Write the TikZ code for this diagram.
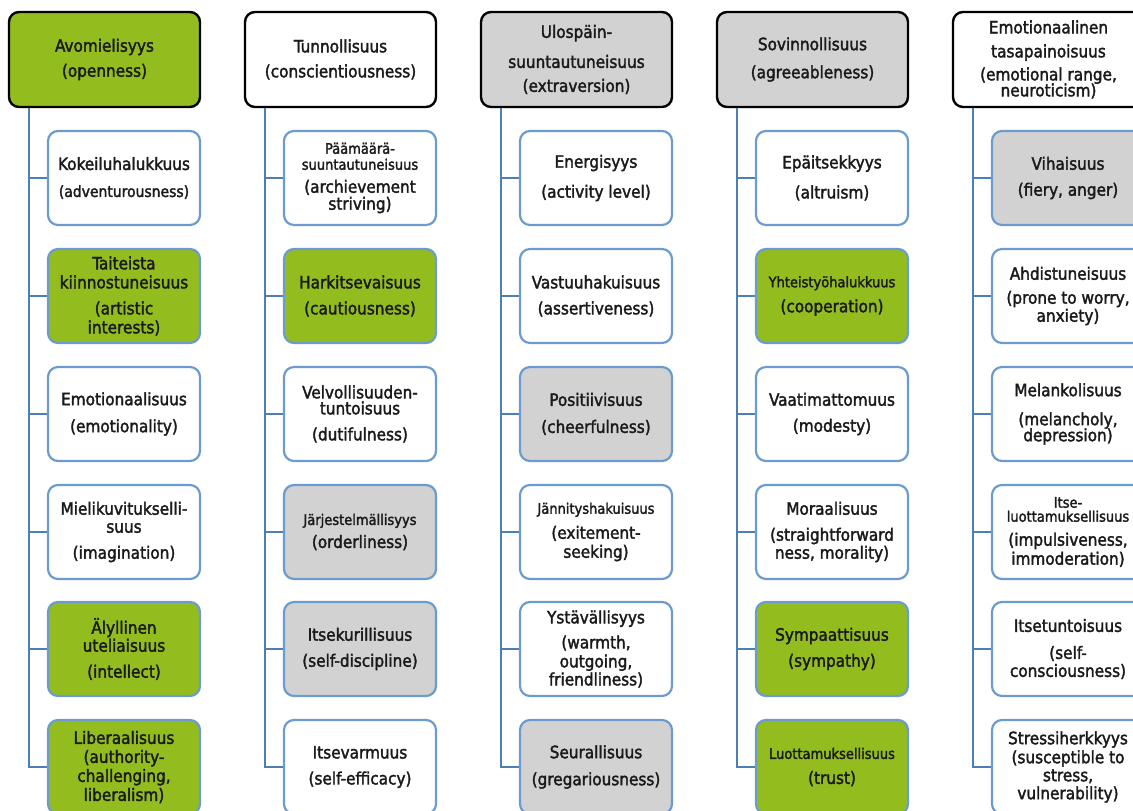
\documentclass[tikz,border=0pt]{standalone}
\usepackage{fontspec}
\setmainfont{DejaVu Sans Condensed}[FakeBold=2]
\definecolor{grn}{HTML}{93BD1F}
\definecolor{gry}{HTML}{D3D2D3}
\definecolor{cbord}{HTML}{6C9BCF}
\definecolor{connc}{HTML}{4D7FB4}
\definecolor{txt}{HTML}{1A1A1A}
\newcommand\sm{\fontsize{14.5}{15}\selectfont}
\newcommand\smb{\fontsize{15.5}{16}\selectfont}
\begin{document}
\begin{tikzpicture}[x=1pt,y=-1pt,
  topbox/.style={draw=black, line width=2.4pt, rounded corners=10pt,
    minimum width=191pt, minimum height=95pt, align=center, inner sep=0pt,
    text=txt, font=\fontsize{17}{19}\selectfont},
  subbox/.style={draw=cbord, line width=2.2pt, rounded corners=10pt,
    minimum width=152pt, minimum height=94pt, align=center, inner sep=0pt,
    text=txt, font=\fontsize{17}{19}\selectfont},
  gbox/.style={fill=grn},
  hbox/.style={fill=gry},
  wbox/.style={fill=white},
  link/.style={draw=connc, line width=2.6pt}]
\useasboundingbox (0,0) rectangle (1133,811);
\fill[white] (0,0) rectangle (1133,811);

% ---------- column 1 ----------
\node[topbox,gbox] (A0) at (104.5,59.5) {Avomielisyys\\[6pt](openness)};
\node[subbox,wbox] (A1) at (124,178) {Kokeiluhalukkuus\\[8pt]{\smb(adventurousness)}};
\node[subbox,gbox] (A2) at (124,296) {Taiteista\\kiinnostuneisuus\\[7pt](artistic\\interests)};
\node[subbox,wbox] (A3) at (124,414) {Emotionaalisuus\\[8pt](emotionality)};
\node[subbox,wbox] (A4) at (124,532) {Mielikuvitukselli-\\[-1pt]suus\\[7pt](imagination)};
\node[subbox,gbox] (A5) at (124,649) {Älyllinen\\[-1pt]uteliaisuus\\[7pt](intellect)};
\node[subbox,gbox] (A6) at (124,767) {Liberaalisuus\\(authority-\\challenging,\\liberalism)};

% ---------- column 2 ----------
\node[topbox,wbox] (B0) at (340.5,59.5) {Tunnollisuus\\[6pt](conscientiousness)};
\node[subbox,wbox] (B1) at (360,178) {{\sm Päämäärä-}\\[-3pt]{\sm suuntautuneisuus}\\[4pt](archievement\\[-2pt]striving)};
\node[subbox,gbox] (B2) at (360,296) {Harkitsevaisuus\\[7pt](cautiousness)};
\node[subbox,wbox] (B3) at (360,414) {Velvollisuuden-\\[-3pt]tuntoisuus\\[7pt](dutifulness)};
\node[subbox,hbox] (B4) at (360,532) {{\sm Järjestelmällisyys}\\[4pt](orderliness)};
\node[subbox,hbox] (B5) at (360,649) {Itsekurillisuus\\[7pt](self-discipline)};
\node[subbox,wbox] (B6) at (360,767) {Itsevarmuus\\[7pt](self-efficacy)};

% ---------- column 3 ----------
\node[topbox,hbox] (C0) at (576.5,59.5) {Ulospäin-\\[11pt]suuntautuneisuus\\[5pt](extraversion)};
\node[subbox,wbox] (C1) at (596,178) {Energisyys\\[11pt](activity level)};
\node[subbox,wbox] (C2) at (596,296) {Vastuuhakuisuus\\[7pt](assertiveness)};
\node[subbox,hbox] (C3) at (596,414) {Positiivisuus\\[8pt](cheerfulness)};
\node[subbox,wbox] (C4) at (596,532) {{\sm Jännityshakuisuus}\\[6pt](exitement-\\seeking)};
\node[subbox,wbox] (C5) at (596,649) {Ystävällisyys\\[6pt](warmth,\\outgoing,\\[-1pt]friendliness)};
\node[subbox,hbox] (C6) at (596,767) {Seurallisuus\\[8pt](gregariousness)};

% ---------- column 4 ----------
\node[topbox,hbox] (D0) at (812.5,59.5) {Sovinnollisuus\\[9pt](agreeableness)};
\node[subbox,wbox] (D1) at (832,178) {Epäitsekkyys\\[11pt](altruism)};
\node[subbox,gbox] (D2) at (832,296) {{\sm Yhteistyöhalukkuus}\\[6pt](cooperation)};
\node[subbox,wbox] (D3) at (832,414) {Vaatimattomuus\\[7pt](modesty)};
\node[subbox,wbox] (D4) at (832,532) {Moraalisuus\\[7pt](straightforward\\[-1pt]ness, morality)};
\node[subbox,gbox] (D5) at (832,649) {Sympaattisuus\\[7pt](sympathy)};
\node[subbox,gbox] (D6) at (832,767) {{\sm Luottamuksellisuus}\\[6pt](trust)};

% ---------- column 5 ----------
\node[topbox,wbox] (E0) at (1048.5,59.5) {Emotionaalinen\\[5pt]tasapainoisuus\\[4pt](emotional range,\\[-3pt]neuroticism)};
\node[subbox,hbox] (E1) at (1068,178) {Vihaisuus\\[7pt](fiery, anger)};
\node[subbox,wbox] (E2) at (1068,296) {Ahdistuneisuus\\[5pt](prone to worry,\\[-1pt]anxiety)};
\node[subbox,wbox] (E3) at (1068,414) {Melankolisuus\\[10pt](melancholy,\\[-3pt]depression)};
\node[subbox,wbox] (E4) at (1068,532) {{\sm Itse-}\\[-5pt]{\sm luottamuksellisuus}\\[5pt](impulsiveness,\\[0pt]immoderation)};
\node[subbox,wbox] (E5) at (1068,649) {Itsetuntoisuus\\[8pt](self-\\[-1pt]consciousness)};
\node[subbox,wbox] (E6) at (1068,767) {Stressiherkkyys\\(susceptible to\\[-1pt]stress,\\[-1pt]vulnerability)};

% ---------- connectors ----------
\foreach \c in {A,B,C,D,E}{
  \coordinate (\c t) at ([xshift=21.2pt]\c0.south west);
  \draw[link] (\c t) |- (\c6.west);
  \foreach \k in {1,...,5}{
    \draw[link] (\c\k.west) -- (\c\k.west -| \c t);
  }
}
\end{tikzpicture}
\end{document}
